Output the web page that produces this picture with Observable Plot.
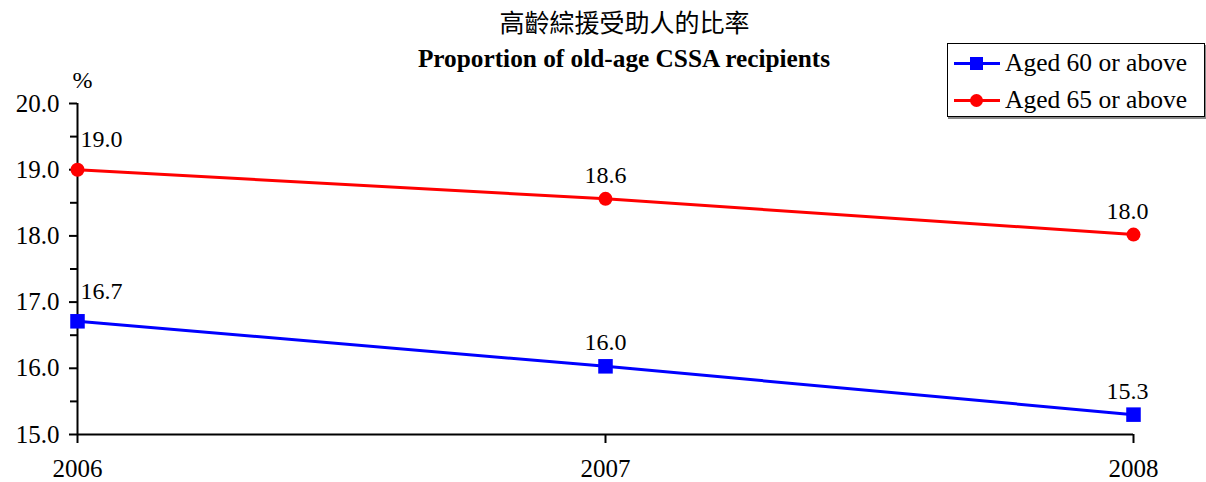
<!DOCTYPE html>
<html>
<head>
<meta charset="utf-8">
<script src="https://cdn.jsdelivr.net/npm/d3@7"></script>
<script src="https://cdn.jsdelivr.net/npm/@observablehq/plot@0.6"></script>
<style>
  html, body { margin: 0; padding: 0; background: #fff; }
  #wrap { position: relative; width: 1206px; height: 482px; overflow: hidden; font-family: "Liberation Serif", "Times New Roman", serif; color: #000; }
  #title-zh { position: absolute; left: 0; width: 1249px; top: 5px; text-align: center; font-family: "Noto Sans CJK TC", "Noto Sans CJK SC", sans-serif; font-size: 25px; line-height: 32px; }
  #title-en { position: absolute; left: 0; width: 1248px; top: 43px; text-align: center; font-weight: bold; font-size: 25.3px; line-height: 30px; }
  #legend { position: absolute; left: 947px; top: 43px; width: 256px; height: 72px; border: 1px solid #000; box-shadow: 1px 2px 0 #888; background: #fff; }
  .li { position: absolute; left: 6px; height: 30px; display: flex; align-items: center; font-size: 25.5px; white-space: nowrap; }
  .li svg { margin-right: 5px; }
  #plot { position: absolute; left: 0; top: 0; }
  #plot svg, #plot svg text { font-family: "Liberation Serif", "Times New Roman", serif !important; }
</style>
</head>
<body>
<div id="wrap">
  <div id="plot"></div>
  <div id="title-zh"></div>
  <div id="title-en"></div>
  <div id="legend"></div>
</div>
<script>
const titleZh = "高齡綜援受助人的比率";
const titleEn = "Proportion of old-age CSSA recipients";
const unitLabel = "%";
const years = [2006, 2007, 2008];
const seriesNames = ["Aged 60 or above", "Aged 65 or above"];
const aged60 = [16.71, 16.03, 15.30];
const aged65 = [19.0, 18.56, 18.02];
const seriesColors = ["#0000ff", "#ff0000"];
const seriesSymbols = ["square", "circle"];
const yTicks = [15, 16, 17, 18, 19, 20];
const yMinorTicks = [15.5, 16.5, 17.5, 18.5, 19.5];

const rows = [];
[aged60, aged65].forEach((vals, s) => {
  vals.forEach((v, i) => rows.push({series: seriesNames[s], year: years[i], value: v, idx: i}));
});

document.getElementById("title-zh").textContent = titleZh;
document.getElementById("title-en").textContent = titleEn;

const legend = document.getElementById("legend");
seriesNames.forEach((name, i) => {
  const d = document.createElement("div");
  d.className = "li";
  d.style.top = (i === 0 ? 4 : 41) + "px";
  const marker = seriesSymbols[i] === "square"
    ? `<rect x="16" y="2" width="13" height="13" fill="${seriesColors[i]}"/>`
    : `<circle cx="22.5" cy="8.5" r="6.5" fill="${seriesColors[i]}"/>`;
  d.innerHTML = `<svg width="46" height="17"><line x1="0" x2="46" y1="8.5" y2="8.5" stroke="${seriesColors[i]}" stroke-width="3"/>${marker}</svg><span>${name}</span>`;
  legend.appendChild(d);
});

const fmt = d => d.toFixed(1);
const TFS = 25;   // tick label size
const VFS = 24;   // value label size
const chart = Plot.plot({
  width: 1206,
  height: 482,
  marginLeft: 77,
  marginRight: 73,
  marginTop: 103,
  marginBottom: 48,
  style: {fontFamily: "'Liberation Serif', 'Times New Roman', serif", fontSize: TFS + "px", color: "#000", background: "transparent", overflow: "visible"},
  x: {domain: [2006, 2008]},
  y: {domain: [15, 20]},
  color: {domain: seriesNames, range: seriesColors},
  marks: [
    Plot.axisY(yTicks, {tickFormat: fmt, tickSize: 8, tickPadding: 10, strokeWidth: 2, label: null, fontSize: TFS}),
    Plot.axisY(yMinorTicks, {tickFormat: () => "", tickSize: 7, strokeWidth: 2, label: null}),
    Plot.axisX(years, {tickFormat: d => String(d), tickSize: 9, tickPadding: 16, strokeWidth: 2, label: null, fontSize: TFS}),
    Plot.ruleX([2006], {y1: 15, y2: 20, strokeWidth: 2}),
    Plot.ruleY([15], {strokeWidth: 2}),
    Plot.text([unitLabel], {frameAnchor: "top-left", lineAnchor: "middle", dx: -5, dy: -23, fontSize: VFS}),
    Plot.line(rows, {x: "year", y: "value", z: "series", stroke: "series", strokeWidth: 3}),
    Plot.dot(rows.filter(d => d.series === seriesNames[0]), {x: "year", y: "value", fill: seriesColors[0], symbol: seriesSymbols[0], r: 8.2, stroke: "none"}),
    Plot.dot(rows.filter(d => d.series === seriesNames[1]), {x: "year", y: "value", fill: seriesColors[1], symbol: seriesSymbols[1], r: 7, stroke: "none"}),
    Plot.text(rows.filter(d => d.idx === 0), {x: "year", y: "value", text: d => fmt(d.value), textAnchor: "start", dx: 3, dy: -30, fontSize: VFS}),
    Plot.text(rows.filter(d => d.idx === 1), {x: "year", y: "value", text: d => fmt(d.value), dy: -24, fontSize: VFS}),
    Plot.text(rows.filter(d => d.idx === 2), {x: "year", y: "value", text: d => fmt(d.value), dx: -6, dy: -23, fontSize: VFS})
  ]
});
document.getElementById("plot").appendChild(chart);
</script>
</body>
</html>
